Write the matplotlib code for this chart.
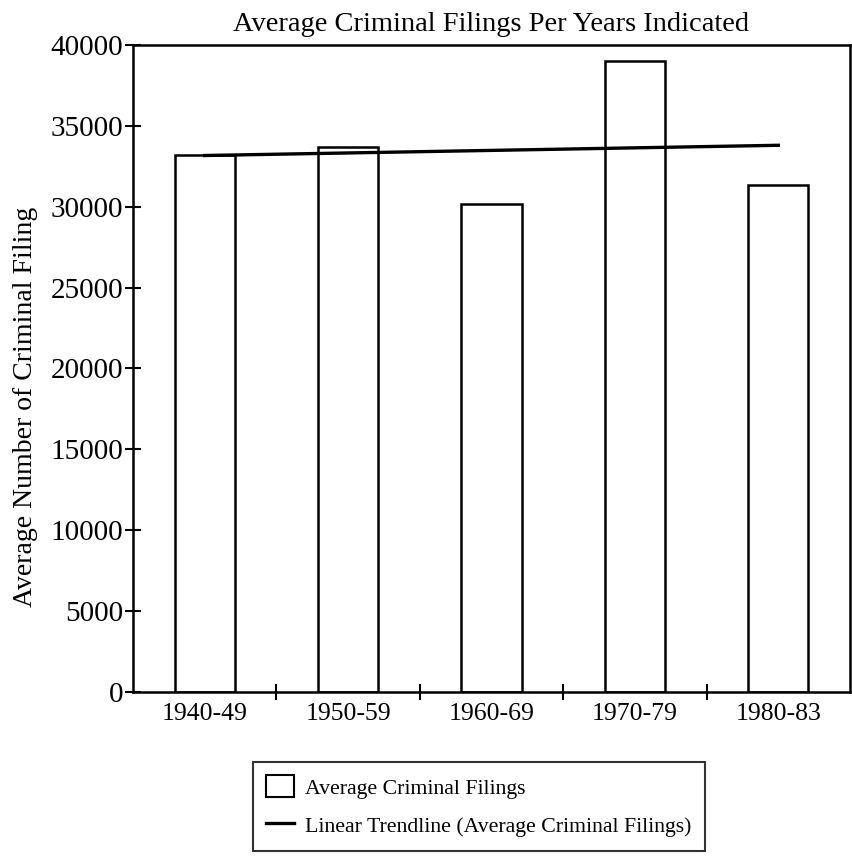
import numpy as np
import matplotlib
matplotlib.use('Agg')
import matplotlib.pyplot as plt
from matplotlib.patches import Patch
from matplotlib.lines import Line2D

plt.rcParams['font.family'] = ['Liberation Serif', 'DejaVu Serif']

periods = ['1940-49', '1950-59', '1960-69', '1970-79', '1980-83']
avg_filings = [33200, 33720, 30150, 39000, 31350]
y_ticks = [0, 5000, 10000, 15000, 20000, 25000, 30000, 35000, 40000]

x = np.arange(1, len(periods) + 1)
# Excel-style linear trendline over category index
slope, icpt = np.polyfit(x, avg_filings, 1)
trend = slope * x + icpt

fig = plt.figure(figsize=(8.52, 8.65), dpi=100)
ax = fig.add_axes([133 / 852, 1 - 692 / 865, (850 - 133) / 852, (692 - 45) / 865])

ax.bar(x, avg_filings, width=0.42, color='white', edgecolor='black', lw=1.8, zorder=2)
ax.plot(x, trend, color='black', lw=2.4, zorder=3)

ax.set_xlim(0.5, 5.5)
ax.set_ylim(0, 40000)
ax.set_yticks(y_ticks)
ax.set_yticklabels([str(v) for v in y_ticks], fontsize=21)
ax.set_xticks(x)
ax.set_xticklabels(periods, fontsize=18.5)
ax.set_xticks(np.arange(1.5, 5.5, 1), minor=True)
ax.tick_params(axis='x', which='major', length=0, pad=8)
ax.tick_params(axis='x', which='minor', direction='inout', length=12, width=1.5)
ax.tick_params(axis='y', direction='inout', length=12, width=1.5, pad=1)
for s in ax.spines.values():
    s.set_linewidth(1.8)

ax.set_ylabel('Average Number of Criminal Filing', fontsize=20)
ax.yaxis.set_label_coords(-0.133, 0.44)
ax.set_title('Average Criminal Filings Per Years Indicated', fontsize=20.5, pad=10)

handles = [Patch(facecolor='white', edgecolor='black', lw=1.5),
           Line2D([0], [0], color='black', lw=2.4)]
labels = ['Average Criminal Filings', 'Linear Trendline (Average Criminal Filings)']
leg = fig.legend(handles, labels, loc='upper left',
                 bbox_to_anchor=(253 / 852, 1 - 762 / 865), fontsize=15.7,
                 frameon=True, fancybox=False, borderpad=0.6, labelspacing=0.7,
                 handlelength=1.3, handleheight=1.2, handletextpad=0.5, borderaxespad=0)
leg.get_frame().set_edgecolor('black')
leg.get_frame().set_linewidth(1.5)

plt.savefig('out.png', dpi=100)
plt.close()
